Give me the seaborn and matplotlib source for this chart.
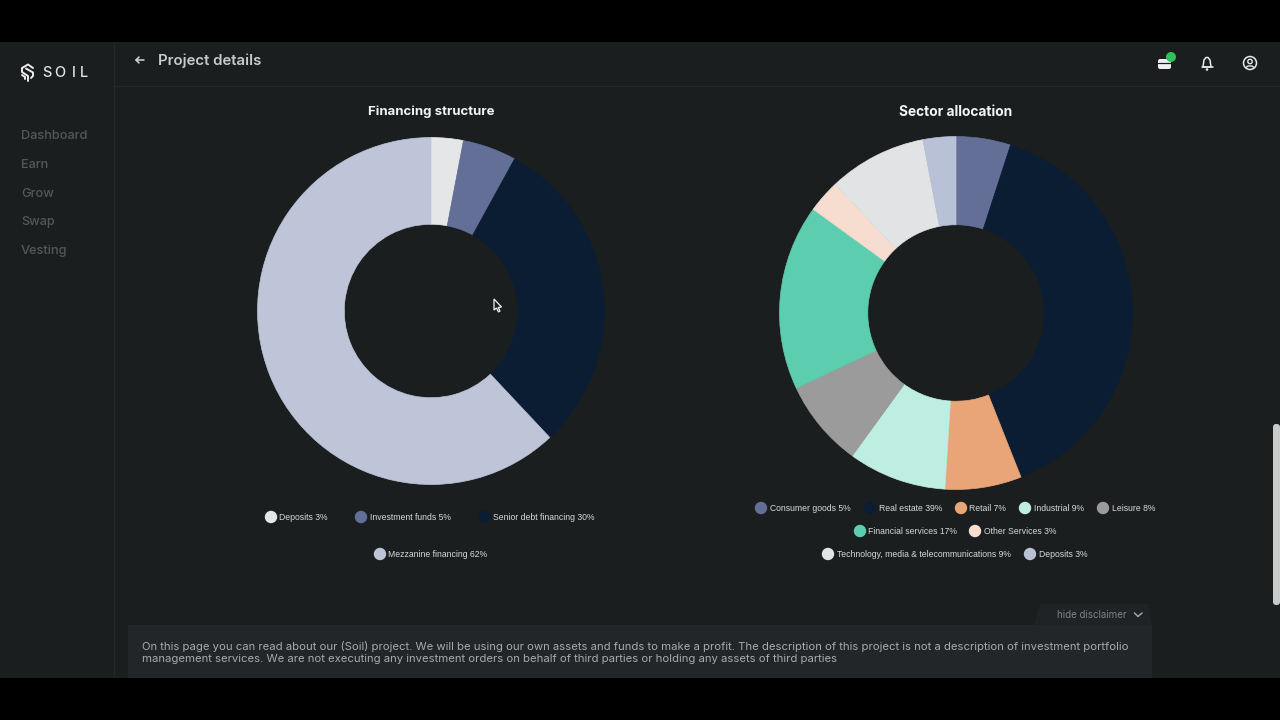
"""Soil project details screen: financing structure and sector allocation donuts."""

import matplotlib
matplotlib.use("Agg")
import matplotlib.pyplot as plt
import seaborn as sns
from matplotlib.patches import Circle, FancyBboxPatch, Polygon, Rectangle

# ============================================================
# DATA
# ============================================================

FINANCING_LABELS = ["Deposits", "Investment funds", "Senior debt financing", "Mezzanine financing"]
FINANCING_VALUES = [3, 5, 30, 62]

SECTOR_LABELS = [
    "Consumer goods", "Real estate", "Retail", "Industrial", "Leisure",
    "Financial services", "Other Services", "Technology, media & telecommunications", "Deposits",
]
SECTOR_VALUES = [5, 39, 7, 9, 8, 17, 3, 9, 3]

NAV_ITEMS = ["Dashboard", "Earn", "Grow", "Swap", "Vesting"]
DISCLAIMER_LINES = [
    "On this page you can read about our (Soil) project. We will be using our own assets and funds to make a profit. "
    "The description of this project is not a description of investment portfolio",
    "management services. We are not executing any investment orders on behalf of third parties or holding any "
    "assets of third parties",
]

# ============================================================
# STYLE CONFIGURATION
# ============================================================

BG = "#1b1e1f"
BAND = "#000000"
PANEL = "#232628"
RULE = "#26292b"

FINANCING_COLORS = sns.color_palette(["#e4e6e8", "#646f97", "#0a1d33", "#bfc5d8"])
SECTOR_COLORS = sns.color_palette([
    "#646f97", "#0a1d33", "#e9a477", "#beede1", "#9b9b9b",
    "#5ccdae", "#f7ddcf", "#e2e3e5", "#b9c1d6",
])

# marker x, text x, row y for each legend entry (pixels)
FINANCING_LEGEND_POS = [(271, 279, 517), (361, 370, 517), (485, 493, 517), (380, 388, 554)]
SECTOR_LEGEND_POS = [
    (761, 769.5, 508), (870, 879, 508), (961, 969, 508), (1025, 1034, 508), (1103, 1112, 508),
    (860, 868, 531), (975, 984, 531),
    (828, 837, 554), (1030, 1039, 554),
]

sns.set_theme(style="dark", rc={"figure.facecolor": BAND, "axes.facecolor": BG})
plt.rcParams["font.family"] = ["Inter", "DejaVu Sans"]

W, H = 1280, 720
fig = plt.figure(figsize=(W / 100, H / 100), dpi=100)

# overlay in pixel coordinates for the app chrome
ui = fig.add_axes([0, 0, 1, 1], zorder=0)
ui.set_xlim(0, W)
ui.set_ylim(H, 0)
ui.axis("off")


def add_donut(values, colors, cx, cy, radius, hole):
    """Draw one donut in its own axes, placed by pixel centre and radius."""
    ax = fig.add_axes([(cx - radius) / W, 1 - (cy + radius) / H, 2 * radius / W, 2 * radius / H], zorder=1)
    wedges, _ = ax.pie(values, colors=colors, startangle=90, counterclock=False, radius=1,
                       wedgeprops={"width": 1 - hole})
    # same-colour edge closes the light seams between wedges
    for wedge in wedges:
        wedge.set_edgecolor(wedge.get_facecolor())
        wedge.set_linewidth(0.5)
    ax.set_xlim(-1.003, 1.003)
    ax.set_ylim(-1.003, 1.003)
    ax.patch.set_alpha(0)
    return ax


def add_legend(labels, values, colors, positions):
    for label, val, color, (mx, tx, y) in zip(labels, values, colors, positions):
        ui.add_patch(Circle((mx, y), 6.2, color=color, lw=0, zorder=3))
        ui.text(tx, y + 0.8, f"{label} {val}%", color="#d8dadb", fontsize=6.25, va="center", ha="left",
                family="Liberation Sans", zorder=3)


# page frame
ui.add_patch(Rectangle((0, 42), W, 636, color=BG, lw=0))
ui.plot([113.5, 113.5], [42, 678], color=RULE, lw=0.8)
ui.plot([114, W], [85.5, 85.5], color=RULE, lw=0.8)

# logo
LOGO = "#ececec"
ui.plot([33, 28, 22, 22, 28, 28], [68, 64.5, 68, 72, 76, 81], color=LOGO, lw=1.4, solid_capstyle="round")
ui.plot([26, 33, 33, 31], [68.5, 72.5, 76, 78], color=LOGO, lw=1.4, solid_capstyle="round")
ui.plot([22, 25, 25], [75, 77, 79], color=LOGO, lw=1.4, solid_capstyle="round")
for letter, x in zip("SOIL", [42, 54.5, 72, 80]):
    ui.text(x, 73, letter, color="#e0e1e1", fontsize=10.5, va="center", ha="left", weight="medium")

# nav
for item, y in zip(NAV_ITEMS, [136, 165, 194, 222, 251]):
    ui.text(21, y, item, color="#55585a", fontsize=9.2, va="center", ha="left", weight="medium")

# header
ui.plot([136, 144], [60, 60], color="#d8d9d9", lw=1.1)
ui.plot([139, 136, 139], [57, 60, 63], color="#d8d9d9", lw=1.1)
ui.text(158, 61, "Project details", color="#c9cbcb", fontsize=10.8, va="center", ha="left", weight="semibold")

# wallet, bell and user icons
ui.add_patch(FancyBboxPatch((1158, 59), 13, 10, boxstyle="round,pad=0,rounding_size=2", color="#f0f0f0", lw=0))
ui.plot([1158, 1171], [63, 63], color=BG, lw=0.9)
ui.add_patch(Circle((1171, 57), 5, color="#2fc25a", lw=0))
ui.add_patch(Polygon([(1203, 67), (1204, 60), (1206, 57.5), (1208, 57.5), (1210, 60), (1211, 67)],
                     closed=True, fill=False, ec="#e8e8e8", lw=1.1))
ui.plot([1201.5, 1212.5], [67, 67], color="#e8e8e8", lw=1.1)
ui.add_patch(Circle((1207, 69.5), 1.3, color="#e8e8e8", lw=0))
ui.add_patch(Circle((1250, 63), 6.5, fill=False, ec="#e8e8e8", lw=1.1))
ui.add_patch(Circle((1250, 61.5), 2.2, fill=False, ec="#e8e8e8", lw=1.0))
ui.plot([1246, 1248, 1252, 1254], [67.5, 66, 66, 67.5], color="#e8e8e8", lw=1.0)

# titles
ui.text(431, 112, "Financing structure", color="#f2f3f3", fontsize=9.5, va="center", ha="center", weight="bold")
ui.text(956, 112, "Sector allocation", color="#f2f3f3", fontsize=9.9, va="center", ha="center", weight="bold")

add_donut(FINANCING_VALUES, FINANCING_COLORS, 431, 311, 174, 0.5)
add_donut(SECTOR_VALUES, SECTOR_COLORS, 956, 313, 177, 0.5)

add_legend(FINANCING_LABELS, FINANCING_VALUES, FINANCING_COLORS, FINANCING_LEGEND_POS)
add_legend(SECTOR_LABELS, SECTOR_VALUES, SECTOR_COLORS, SECTOR_LEGEND_POS)

# disclaimer
ui.add_patch(Rectangle((128, 625), 1024, 53, color=PANEL, lw=0))
ui.add_patch(Polygon([(1034, 625), (1040, 604), (1148, 604), (1152, 625)], closed=True, color="#202325", lw=0))
ui.text(1057, 615.5, "hide disclaimer", color="#808385", fontsize=7.0, va="center", ha="left")
ui.plot([1134.5, 1138, 1142], [613, 616.5, 613], color="#a0a3a5", lw=1.1)
for line, y in zip(DISCLAIMER_LINES, [646, 659]):
    ui.text(142, y, line, color="#a8abad", fontsize=8.15, va="center", ha="left")

# scrollbar
ui.add_patch(FancyBboxPatch((1273, 424), 7, 181, boxstyle="round,pad=0,rounding_size=3", color="#c9cbcb", lw=0))

# black letterbox
ui.add_patch(Rectangle((0, 0), W, 42, color=BAND, lw=0, zorder=5))
ui.add_patch(Rectangle((0, 678), W, 42, color=BAND, lw=0, zorder=5))

# mouse cursor sits on top of the donut axes
top = fig.add_axes([0, 0, 1, 1], zorder=2)
top.set_xlim(0, W)
top.set_ylim(H, 0)
top.axis("off")
top.patch.set_alpha(0)
top.add_patch(Polygon([(494, 299), (494, 310), (496.5, 308), (498.5, 312), (500, 311), (498.3, 307.5), (501.5, 307)],
                      closed=True, fc="#1c1f21", ec="#f0f0f0", lw=0.9))

fig.savefig("out.png", dpi=100, facecolor=BAND)
